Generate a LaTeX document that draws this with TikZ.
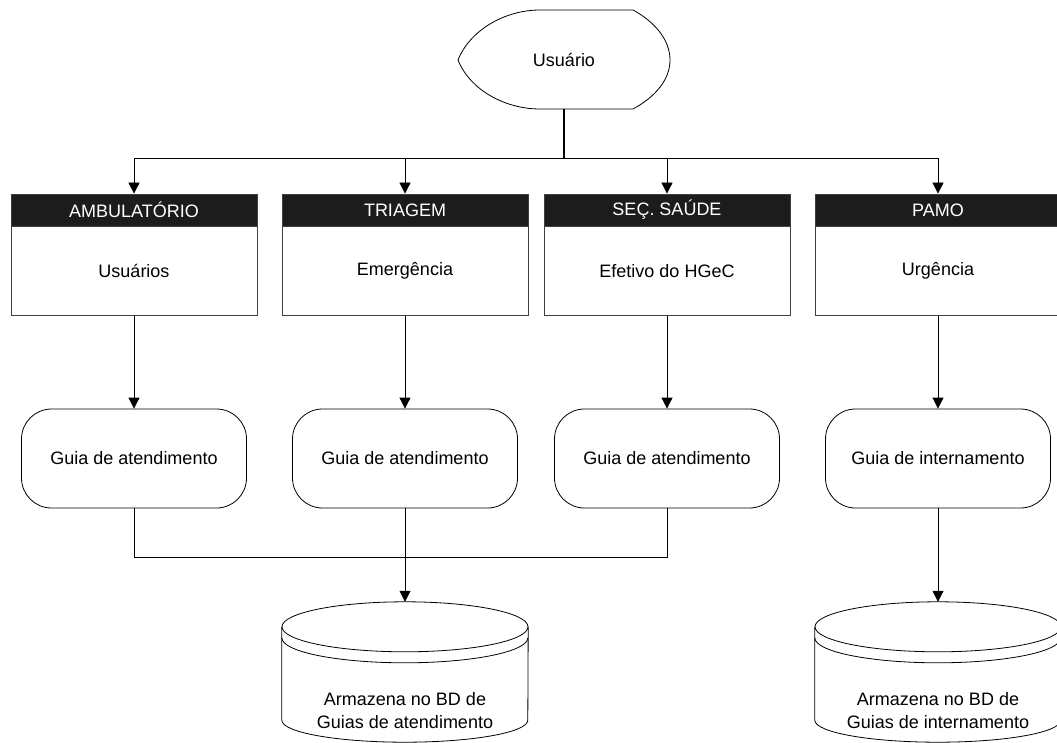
\documentclass[tikz,border=0pt]{standalone}
\usepackage{fontspec}
\setmainfont{Liberation Sans}
\usetikzlibrary{arrows.meta,calc}
\definecolor{hdrfill}{HTML}{1C1C1C}
\definecolor{boxline}{HTML}{404040}

% database symbol: top ellipse, double rim and rounded bottom around a frame node
\newcommand\drawdb[1]{%
  \draw[wire] ($(#1.north)+(0,25)$) ellipse[x radius=123pt, y radius=25pt];
  \draw[wire] ($(#1.north west)+(0,25)$) -- ($(#1.south west)+(0,-22)$)
    arc[start angle=180, end angle=360, x radius=123pt, y radius=22pt]
    -- ($(#1.north east)+(0,25)$);
  \draw[wire] ($(#1.north west)+(0,36)$)
    arc[start angle=180, end angle=360, x radius=123pt, y radius=25pt];
}

\tikzset{
  base/.style={font=\fontsize{18}{23}\selectfont, inner sep=0pt},
  wire/.style={line width=0.8pt, draw=black},
  hdr/.style={base, fill=hdrfill, draw=boxline, line width=0.8pt, text=white,
    minimum width=246pt, minimum height=32pt},
  body/.style={base, draw=boxline, line width=0.8pt,
    minimum width=246pt, minimum height=89pt, anchor=north},
  doc/.style={base, draw, line width=0.8pt, rounded corners=30pt,
    minimum width=225pt, minimum height=99pt},
  dbframe/.style={minimum width=246pt, minimum height=140pt, inner sep=0pt},
  dbtext/.style={base, align=center},
  arr/.style={wire, -{Triangle[length=11pt, width=11pt]}},
}

\begin{document}
\begin{tikzpicture}[x=1pt, y=-1pt]
\useasboundingbox (0,0) rectangle (1057,743);

% user (display symbol)
\node[base, minimum width=212pt, minimum height=99pt] (usr) at (564,59.5) {Usuário};
\draw[wire] (540,10) -- (633,10)
  .. controls (655,22) and (670,40) .. (670,60)
  .. controls (670,80) and (655,97) .. (633,109)
  -- (540,109)
  .. controls (505,109) and (470,90) .. (458,60)
  .. controls (470,30) and (505,10) .. (540,10);

% sectors: header band and description
\node[hdr] (hd1) at (134,210) {AMBULATÓRIO};
\node[hdr] (hd2) at (405,210) {TRIAGEM};
\node[hdr] (hd3) at (667,210) {SEÇ. SAÚDE};
\node[hdr] (hd4) at (938,210) {PAMO};
\node[body] (bd1) at (hd1.south) {Usuários};
\node[body] (bd2) at (hd2.south) {Emergência};
\node[body] (bd3) at (hd3.south) {Efetivo do HGeC};
\node[body] (bd4) at (hd4.south) {Urgência};

% forms
\node[doc] (g1) at (134,458.5) {Guia de atendimento};
\node[doc] (g2) at (405,458.5) {Guia de atendimento};
\node[doc] (g3) at (667,458.5) {Guia de atendimento};
\node[doc] (g4) at (938,458.5) {Guia de internamento};

% databases
\node[dbframe] (db1) at (405,672) {};
\node[dbframe] (db2) at (938,672) {};
\drawdb{db1}
\drawdb{db2}
\node[dbtext] (db1t) at (405,711) {Armazena no BD de\\Guias de atendimento};
\node[dbtext] (db2t) at (938,711) {Armazena no BD de\\Guias de internamento};

% distribution from the user to the sectors
\coordinate (bus) at (564,158);
\draw[line width=1.8pt] (usr.south) -- (bus);
\foreach \h in {hd1,hd2,hd3,hd4}
  \draw[arr] (bus) -| (\h.north);

% sectors to forms
\foreach \i in {1,2,3,4}
  \draw[arr] (bd\i.south) -- (g\i.north);

% forms to storage
\coordinate (j) at (405,557);
\draw[wire] (g1.south) |- (j);
\draw[wire] (g3.south) |- (j);
\draw[arr] (g2.south) -- (db1.north);
\draw[arr] (g4.south) -- (db2.north);
\end{tikzpicture}
\end{document}
